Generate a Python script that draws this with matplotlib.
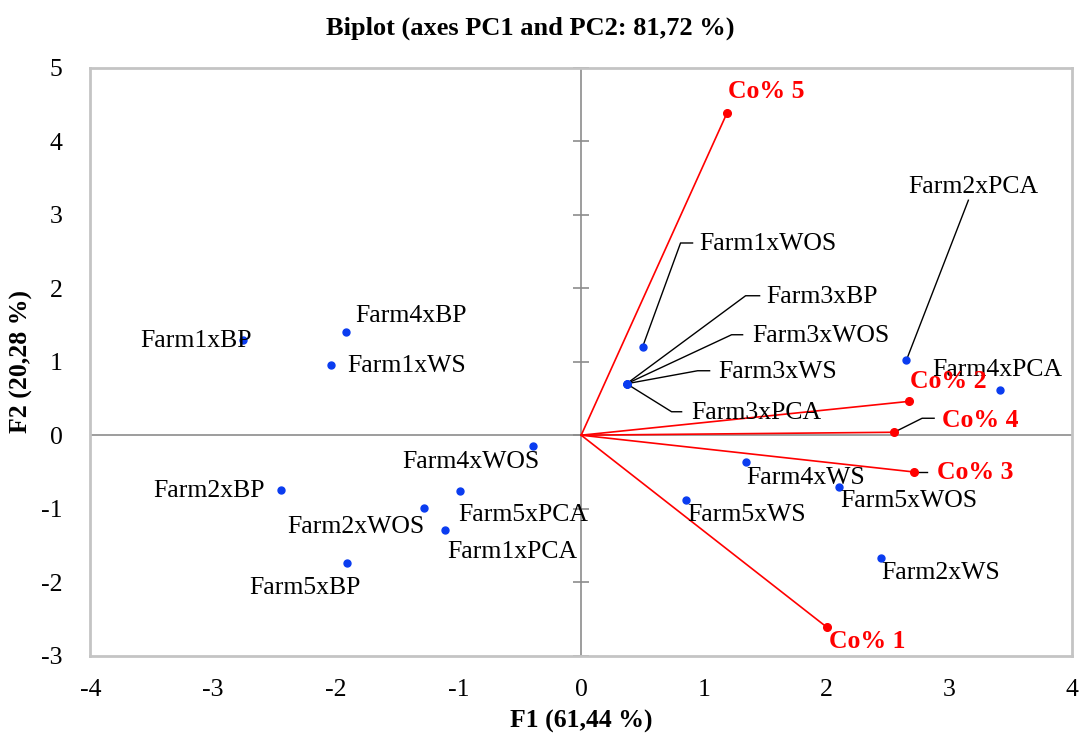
import numpy as np
import matplotlib
matplotlib.use('Agg')
import matplotlib.pyplot as plt
import matplotlib.transforms as mtransforms

# observations (blue points)
obs_names = ['Farm1xBP', 'Farm4xBP', 'Farm1xWS', 'Farm4xWOS', 'Farm2xBP', 'Farm2xWOS',
             'Farm5xPCA', 'Farm1xPCA', 'Farm5xBP', 'Farm1xWOS', 'Farm3xBP', 'Farm3xWOS',
             'Farm3xWS', 'Farm3xPCA', 'Farm2xPCA', 'Farm4xPCA', 'Farm4xWS', 'Farm5xWOS',
             'Farm5xWS', 'Farm2xWS']
obs_f1 = [-2.76, -1.92, -2.04, -0.39, -2.45, -1.28, -0.99, -1.11, -1.91, 0.50, 0.37, 0.37,
          0.37, 0.37, 2.65, 3.41, 1.34, 2.10, 0.85, 2.44]
obs_f2 = [1.30, 1.40, 0.95, -0.15, -0.75, -0.99, -0.76, -1.29, -1.74, 1.20, 0.70, 0.70,
          0.70, 0.70, 1.02, 0.61, -0.37, -0.71, -0.88, -1.67]

# variables (red vectors)
var_names = ['Co% 1', 'Co% 2', 'Co% 3', 'Co% 4', 'Co% 5']
var_f1 = [2.00, 2.67, 2.71, 2.55, 1.19]
var_f2 = [-2.61, 0.46, -0.50, 0.04, 4.39]

# label placement, pixels from the point: (dx, dy, ha) or leader (bend, end, text)
obs_lab = {
    'Farm1xBP': (-102, -1, 'left'), 'Farm4xBP': (10, 16, 'left'), 'Farm1xWS': (16, -1, 'left'),
    'Farm4xWOS': (-131, -16, 'left'), 'Farm2xBP': (-16, -1, 'right'), 'Farm2xWOS': (0, -19, 'right'),
    'Farm5xPCA': (-1, -24, 'left'), 'Farm1xPCA': (2, -22, 'left'), 'Farm5xBP': (-98, -25, 'left'),
    'Farm4xPCA': (-67, 20, 'left'), 'Farm4xWS': (1, -16, 'left'), 'Farm5xWOS': (1, -14, 'left'),
    'Farm5xWS': (2, -15, 'left'), 'Farm2xWS': (1, -15, 'left'),
}
obs_leader = {
    'Farm1xWOS': [(38, 104), (50, 104), (57, 103)],
    'Farm3xBP': [(119, 88), (133, 88), (140, 87)],
    'Farm3xWOS': [(105, 49), (116, 49), (126, 48)],
    'Farm3xWS': [(71, 13), (83, 13), (92, 12)],
    'Farm3xPCA': [(45, -28), (55, -28), (65, -29)],
    'Farm2xPCA': [(62, 160), (62, 160), (2, 173)],
}
var_lab = {'Co% 1': (2, -14), 'Co% 2': (1, 20), 'Co% 5': (1, 21)}
var_leader = {
    'Co% 4': [(28, 14), (40, 14), (48, 12)],
    'Co% 3': [(13, 0), (13, 0), (23, -1)],
}

plt.rcParams['font.family'] = ['Liberation Serif', 'DejaVu Serif']
plt.rcParams['axes.unicode_minus'] = False
fs = 18.5
blue = '#0a3cf0'
red = '#ff0000'

fig = plt.figure(figsize=(10.82, 7.38), dpi=100)
ax = fig.add_axes([0.0835, 0.1115, 0.9073, 0.7968])
ax.set_xlim(-4, 4)
ax.set_ylim(-3, 5)

for s in ax.spines.values():
    s.set_color('#c4c4c4')
    s.set_linewidth(2)
ax.set_xticks(np.arange(-4, 5))
ax.set_yticks(np.arange(-3, 6))
ax.tick_params(axis='x', length=0, pad=17, labelsize=fs)
ax.tick_params(axis='y', length=0, pad=20, labelsize=fs)

ax.axhline(0, color='#8c8c8c', lw=1.2, zorder=1)
ax.axvline(0, color='#8c8c8c', lw=1.2, zorder=1)
ax.plot(np.zeros(9), np.arange(-3, 6), ls='none', marker='_', ms=12, mew=1.2,
        color='#8c8c8c', zorder=1, clip_on=False)

# vectors
for x, y in zip(var_f1, var_f2):
    ax.plot([0, x], [0, y], color=red, lw=1.2, zorder=2)
ax.plot(var_f1, var_f2, ls='none', marker='o', ms=5.5, color=red, zorder=3)
ax.plot(obs_f1, obs_f2, ls='none', marker='o', ms=5, color=blue, zorder=3)

sc = fig.dpi / 100.0


def leader(x, y, pts, color='black'):
    tr = mtransforms.Affine2D().scale(sc) + mtransforms.ScaledTranslation(x, y, ax.transData)
    xs = [0] + [p[0] for p in pts]
    ys = [0] + [p[1] for p in pts]
    ax.plot(xs, ys, color=color, lw=1.0, transform=tr, zorder=2, clip_on=False)


for n, x, y in zip(obs_names, obs_f1, obs_f2):
    if n in obs_lab:
        dx, dy, ha = obs_lab[n]
        ax.annotate(n, (x, y), xytext=(dx * sc, dy * sc), textcoords='offset pixels',
                    ha=ha, va='center', fontsize=fs, zorder=4)
    else:
        pts = obs_leader[n]
        if n == 'Farm2xPCA':
            leader(x, y, [pts[0]])
        else:
            leader(x, y, pts[:2])
        tx, ty = pts[2]
        ax.annotate(n, (x, y), xytext=(tx * sc, ty * sc), textcoords='offset pixels',
                    ha='left', va='center', fontsize=fs, zorder=4)

for n, x, y in zip(var_names, var_f1, var_f2):
    if n in var_lab:
        dx, dy = var_lab[n]
    else:
        pts = var_leader[n]
        leader(x, y, pts[:2])
        dx, dy = pts[2]
    ax.annotate(n, (x, y), xytext=(dx * sc, dy * sc), textcoords='offset pixels',
                ha='left', va='center', fontsize=fs, color=red, fontweight='bold', zorder=4)

fig.text(0.49, 0.962, 'Biplot (axes PC1 and PC2: 81,72 %)', ha='center', va='center',
         fontsize=19, fontweight='bold')
ax.set_xlabel('F1 (61,44 %)', fontsize=fs, fontweight='bold', labelpad=6)
ax.set_ylabel('F2 (20,28 %)', fontsize=fs, fontweight='bold')
ax.yaxis.set_label_coords(-0.0584, 0.5)

fig.savefig('out.png', dpi=100)
